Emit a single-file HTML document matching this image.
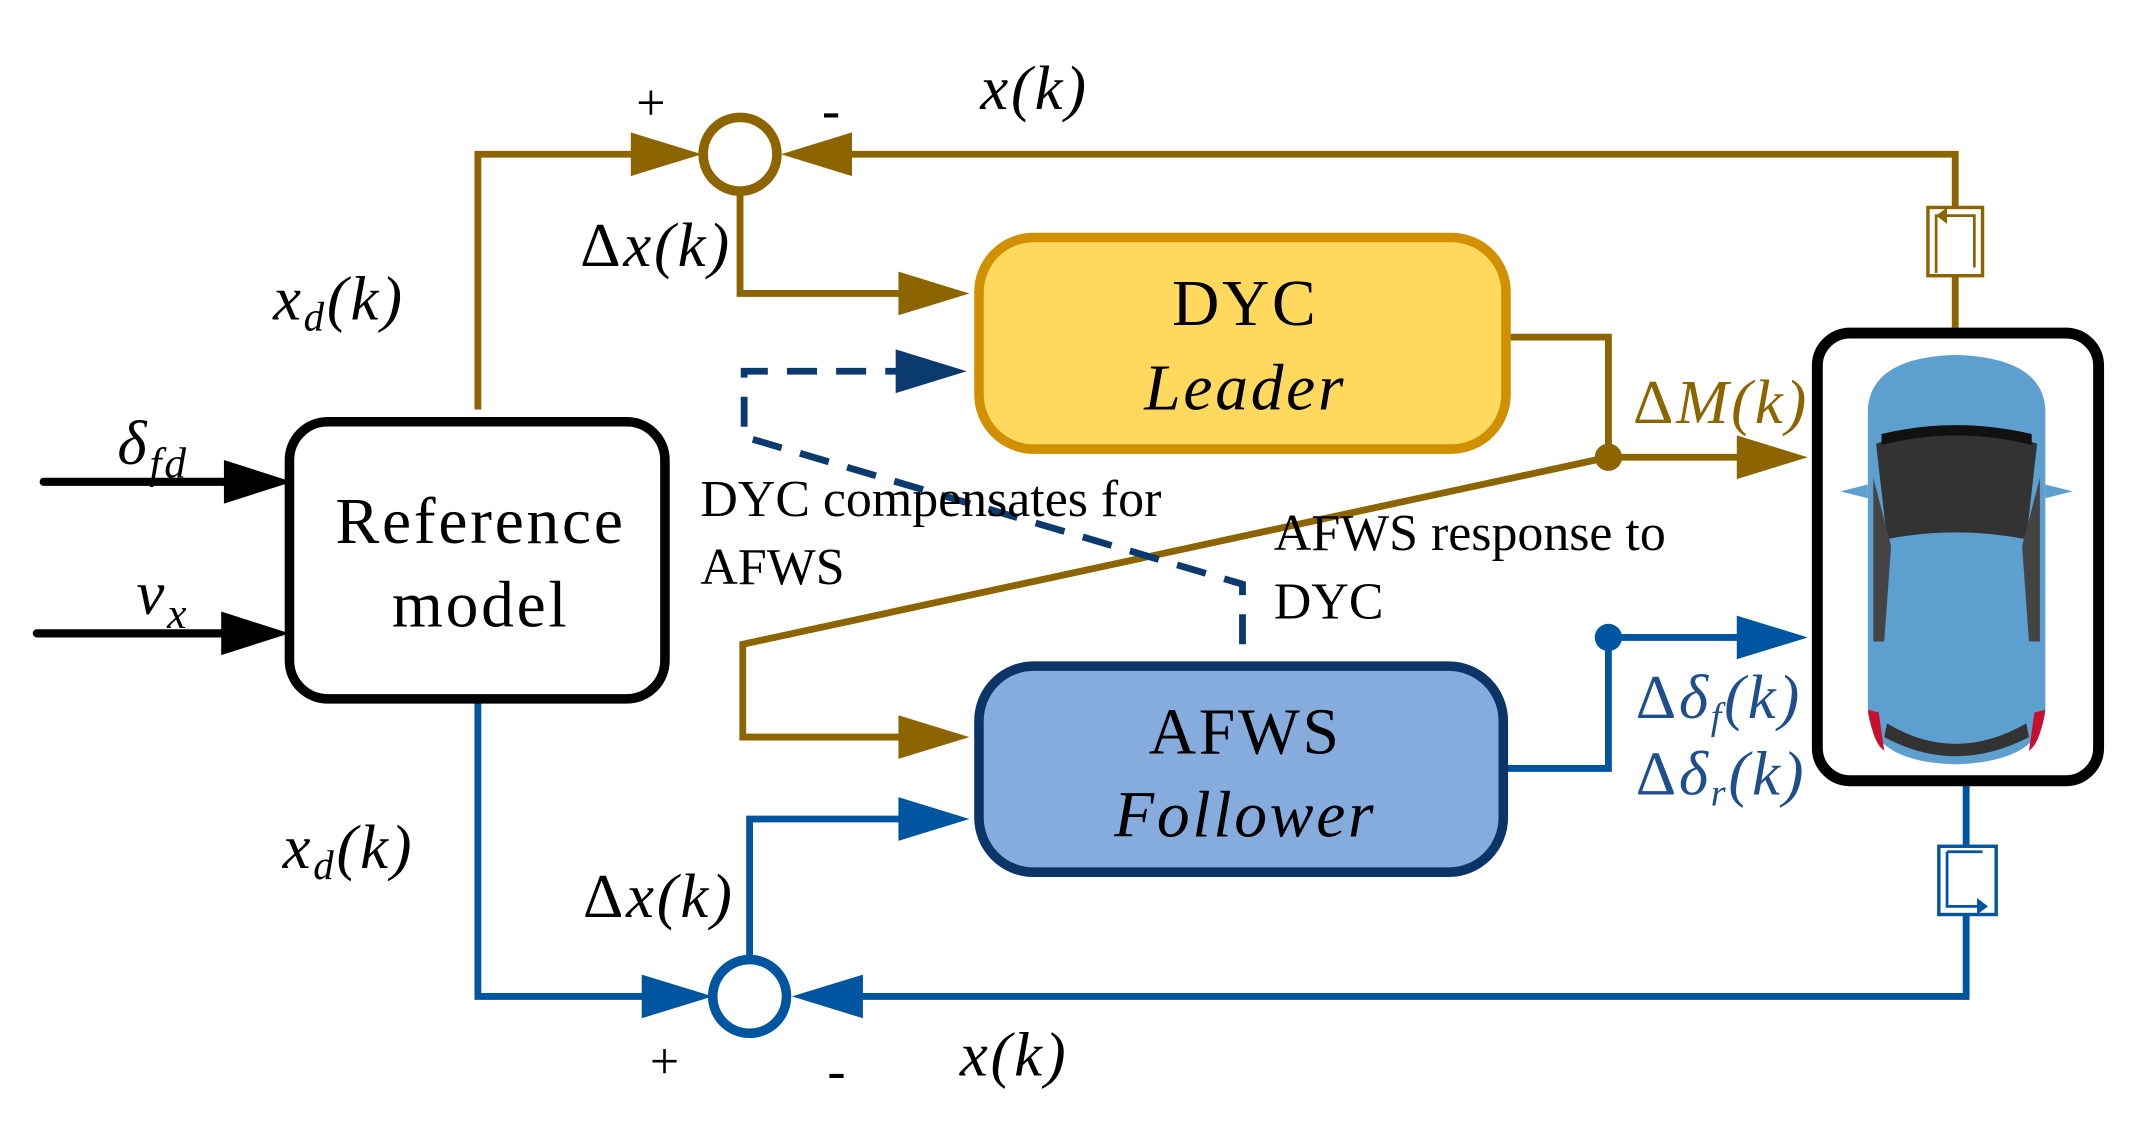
<!DOCTYPE html>
<html><head><meta charset="utf-8"><style>
html,body{margin:0;padding:0;background:#fff}
svg{display:block}
text{font-family:"Liberation Serif",serif}
</style></head><body>
<svg width="2130" height="1122" viewBox="0 0 1560 822" preserveAspectRatio="none" xmlns="http://www.w3.org/2000/svg">
<g fill="none" stroke-linejoin="miter">
<polyline points="350,300 350,113 500,113" stroke="#8C6400" stroke-width="5"/>
<polygon points="462,97 514,113 462,129" fill="#8C6400"/>
<polyline points="1432,240 1432,113 600,113" stroke="#8C6400" stroke-width="5"/>
<polygon points="624,97 572,113 624,129" fill="#8C6400"/>
<rect x="1412" y="152" width="40" height="50" fill="#fff" stroke="#8C6400" stroke-width="2.5"/>
<path d="M1418,200 V158 H1446 V196" stroke="#8C6400" stroke-width="2"/>
<polygon points="1418,158 1426,152 1426,164" fill="#8C6400"/>
<polyline points="542,140 542,215 680,215" stroke="#8C6400" stroke-width="5"/>
<polygon points="658,199 710,215 658,231" fill="#8C6400"/>
<circle cx="542" cy="113" r="27" fill="#fff" stroke="#8C6400" stroke-width="7"/>
<polyline points="1102,247 1178,247 1178,335 1290,335" stroke="#8C6400" stroke-width="5"/>
<polygon points="1272,319 1324,335 1272,351" fill="#8C6400"/>
<polyline points="1178,335 544,472 544,540 680,540" stroke="#8C6400" stroke-width="5"/>
<polygon points="658,524 710,540 658,556" fill="#8C6400"/>
<circle cx="1178" cy="335" r="10" fill="#8C6400"/>
<polyline points="350,513 350,730 500,730" stroke="#0055A0" stroke-width="5"/>
<polygon points="470,714 522,730 470,746" fill="#0055A0"/>
<polyline points="1440,575 1440,730 630,730" stroke="#0055A0" stroke-width="5"/>
<polygon points="632,714 580,730 632,746" fill="#0055A0"/>
<rect x="1420" y="620" width="42" height="50" fill="#fff" stroke="#0055A0" stroke-width="2.5"/>
<path d="M1426,624 H1452 M1426,624 V664 H1450" stroke="#0055A0" stroke-width="2"/>
<polygon points="1456,664 1448,658 1448,670" fill="#0055A0"/>
<polyline points="549,703 549,600 680,600" stroke="#0055A0" stroke-width="5"/>
<polygon points="658,584 710,600 658,616" fill="#0055A0"/>
<circle cx="549" cy="730" r="27" fill="#fff" stroke="#0055A0" stroke-width="7"/>
<polyline points="1100,563 1178,563 1178,467 1290,467" stroke="#0055A0" stroke-width="5"/>
<polygon points="1272,451 1324,467 1272,483" fill="#0055A0"/>
<circle cx="1178" cy="467" r="10" fill="#0055A0"/>
<polyline points="910,472 910,428 545,320 545,272 660,272" stroke="#0B3A6E" stroke-width="5" stroke-dasharray="22,14"/>
<polygon points="656,256 708,272 656,288" fill="#0B3A6E"/>
<line x1="32" y1="353" x2="180" y2="353" stroke="#000" stroke-width="6" stroke-linecap="round"/>
<polygon points="164,337 214,353 164,369" fill="#000"/>
<line x1="27" y1="464" x2="180" y2="464" stroke="#000" stroke-width="6" stroke-linecap="round"/>
<polygon points="162,448 212,464 162,480" fill="#000"/>
<rect x="212" y="309" width="275" height="203" rx="28" fill="#fff" stroke="#000" stroke-width="7"/>
<rect x="717" y="174" width="386" height="155" rx="40" fill="#FFD95E" stroke="#D09000" stroke-width="7"/>
<rect x="717" y="488" width="384" height="151" rx="40" fill="#86ACDE" stroke="#0A3566" stroke-width="7"/>
<rect x="1331" y="244" width="206" height="328" rx="24" fill="#fff" stroke="#000" stroke-width="8"/>
</g>
<g>
<path d="M1368,300 Q1370,262 1432,260 Q1496,262 1498,300 L1498,520 Q1496,558 1432,560 Q1370,558 1368,520 Z" fill="#5DA0D0"/>
<path d="M1348,360 L1368,355 L1368,365 Z M1518,360 L1498,355 L1498,365Z" fill="#5DA0D0"/>
<path d="M1374,325 Q1432,305 1492,325 L1484,395 Q1432,385 1382,395 Z" fill="#333"/>
<path d="M1378,318 Q1432,305 1488,318 L1488,326 Q1432,312 1378,326Z" fill="#111"/>
<path d="M1372,350 L1385,400 L1380,470 L1372,470Z M1494,350 L1481,400 L1486,470 L1494,470Z" fill="#444"/>
<path d="M1382,530 Q1432,560 1484,530 L1486,540 Q1432,568 1380,540Z" fill="#333"/>
<path d="M1368,520 Q1372,545 1380,550 L1376,522Z M1498,520 Q1494,545 1486,550 L1490,522Z" fill="#C8102E"/>
</g>
<g font-size="48" fill="#000" text-anchor="middle" letter-spacing="2">
<text x="352" y="398">Reference</text>
<text x="352" y="459">model</text>
<text x="912" y="238">DYC</text>
<text x="912" y="300" font-style="italic">Leader</text>
<text x="912" y="552">AFWS</text>
<text x="912" y="613" font-style="italic">Follower</text>
</g>
<g font-size="38" fill="#000">
<text x="513" y="378">DYC compensates for</text>
<text x="513" y="428">AFWS</text>
<text x="933" y="403">AFWS response to</text>
<text x="933" y="453">DYC</text>
<text x="466" y="88" font-size="38">+</text>
<text x="602" y="94" font-size="40">-</text>
<text x="476" y="790" font-size="38">+</text>
<text x="606" y="798" font-size="40">-</text>
</g>
<g font-size="46" fill="#000" font-style="italic" letter-spacing="2">
<text x="718" y="80">x(k)</text>
<text x="703" y="788">x(k)</text>
<text x="425" y="195"><tspan font-style="normal">Δ</tspan>x(k)</text>
<text x="427" y="672"><tspan font-style="normal">Δ</tspan>x(k)</text>
<text x="200" y="234">x<tspan font-size="30" dy="8">d</tspan><tspan dy="-8">(k)</tspan></text>
<text x="207" y="636">x<tspan font-size="30" dy="8">d</tspan><tspan dy="-8">(k)</tspan></text>
<text x="86" y="340">δ<tspan font-size="32" dy="10">fd</tspan></text>
<text x="100" y="450">v<tspan font-size="32" dy="10">x</tspan></text>
<text x="1196" y="310" fill="#8C6400"><tspan font-style="normal">Δ</tspan>M(k)</text>
<text x="1198" y="526" fill="#1F4E8C"><tspan font-style="normal">Δ</tspan>δ<tspan font-size="28" dy="8">f</tspan><tspan dy="-8">(k)</tspan></text>
<text x="1198" y="582" fill="#1F4E8C"><tspan font-style="normal">Δ</tspan>δ<tspan font-size="28" dy="8">r</tspan><tspan dy="-8">(k)</tspan></text>
</g>
</svg>
</body></html>
